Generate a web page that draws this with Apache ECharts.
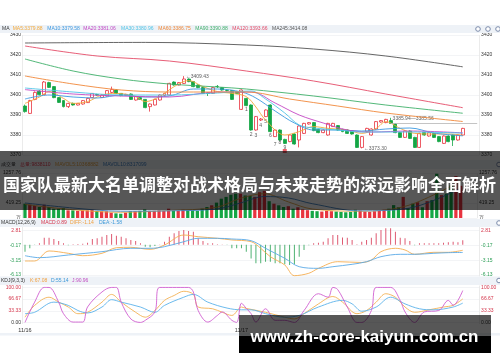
<!DOCTYPE html>
<html lang="zh">
<head>
<meta charset="UTF-8">
<title>K线</title>
<style>
  html, body { margin: 0; padding: 0; background: #fff; }
  #main { width: 500px; height: 362px; }
</style>
</head>
<body>
<div id="main"></div>
<script src="https://cdn.jsdelivr.net/npm/echarts@6/dist/echarts.min.js"></script>
<script>
// ---- data ----
var slotCount = 95;
var dayStarts = [[0, '11/16'], [45, '11/17']];

// [open, close, low, high]
var candles = [
  [3394.5,3391.7,3391.2,3395.2],[3390.8,3397.2,3390.5,3397.6],[3397.8,3401.3,3397.4,3401.8],[3402.0,3400.2,3399.8,3402.4],
  [3400.2,3406.5,3400.0,3407.0],[3406.2,3403.8,3403.5,3406.6],[3404.2,3398.7,3398.4,3404.5],[3398.7,3396.3,3396.0,3399.0],
  [3397.2,3394.2,3393.8,3397.5],[3394.2,3395.8,3393.5,3396.1],[3395.8,3395.0,3394.7,3396.2],[3395.0,3395.8,3394.8,3396.0],
  [3395.5,3397.2,3395.2,3397.5],[3396.2,3398.3,3396.0,3398.6],[3398.7,3400.8,3398.4,3401.0],[3400.2,3400.0,3399.6,3400.6],
  [3398.8,3400.0,3398.5,3400.3],[3399.5,3402.2,3399.3,3402.5],[3401.3,3402.8,3401.0,3404.2],[3402.5,3400.8,3400.5,3402.8],
  [3400.8,3399.7,3399.4,3401.0],[3399.8,3400.3,3399.5,3400.6],[3400.5,3397.8,3397.5,3400.8],[3397.5,3399.2,3397.2,3399.5],
  [3398.7,3397.8,3397.5,3399.0],[3397.8,3393.7,3393.4,3398.0],[3394.2,3395.5,3391.7,3395.8],[3395.0,3397.8,3394.8,3398.1],
  [3397.5,3400.0,3397.2,3400.3],[3399.8,3400.8,3399.5,3401.1],[3400.0,3405.8,3399.8,3406.1],[3406.5,3405.0,3404.7,3406.8],
  [3405.0,3406.2,3404.8,3406.5],[3405.8,3408.0,3405.5,3409.43],[3408.0,3406.7,3406.4,3408.3],[3406.7,3404.2,3403.9,3407.0],
  [3405.0,3403.7,3403.4,3405.3],[3403.7,3400.8,3400.5,3404.0],[3401.0,3400.8,3399.5,3401.3],[3400.8,3403.7,3400.5,3404.0],
  [3404.3,3404.2,3403.5,3405.0],[3403.7,3402.5,3402.2,3404.0],[3402.3,3402.2,3401.8,3402.7],[3402.2,3397.8,3397.5,3402.5],
  [3401.7,3400.8,3400.5,3402.0],[3392.8,3402.5,3392.5,3402.8],[3398.3,3394.7,3394.4,3398.6],[3395.0,3382.5,3382.2,3395.3],
  [3382.5,3389.2,3382.2,3389.5],[3387.5,3388.0,3387.0,3388.5],[3389.2,3392.5,3389.0,3392.8],[3395.0,3381.7,3381.4,3395.3],
  [3379.2,3382.5,3379.0,3382.8],[3382.5,3377.5,3377.2,3382.8],[3377.8,3375.8,3375.5,3378.1],[3376.7,3380.0,3376.4,3380.3],
  [3380.5,3375.5,3375.2,3380.8],[3377.5,3384.5,3373.8,3384.8],[3380.8,3385.8,3380.5,3386.1],[3385.5,3386.2,3385.2,3386.5],
  [3386.2,3382.2,3381.9,3386.5],[3382.8,3381.2,3380.9,3383.1],[3381.2,3382.5,3380.9,3382.8],[3380.0,3385.8,3379.7,3386.1],
  [3384.2,3385.8,3384.0,3386.1],[3384.7,3382.5,3382.2,3385.0],[3382.8,3381.7,3381.4,3383.1],[3382.5,3380.8,3380.5,3382.8],
  [3382.0,3380.5,3380.2,3382.3],[3380.0,3373.8,3373.5,3380.3],[3373.8,3379.2,3373.3,3379.5],[3381.7,3383.3,3381.4,3383.6],
  [3380.0,3383.0,3379.7,3383.3],[3383.0,3386.7,3382.7,3387.0],[3386.5,3387.2,3386.2,3387.5],[3386.2,3387.8,3385.9,3388.1],
  [3387.2,3385.8,3385.5,3388.6],[3385.5,3381.2,3380.9,3385.8],[3381.2,3378.8,3378.5,3381.5],[3378.8,3382.0,3378.5,3382.3],
  [3382.0,3378.3,3378.0,3382.3],[3378.8,3373.8,3373.5,3379.1],[3373.8,3380.8,3373.5,3381.1],[3381.2,3380.0,3379.7,3381.5],
  [3379.5,3381.2,3379.2,3381.5],[3380.8,3378.8,3378.5,3381.1],[3379.2,3376.7,3376.4,3379.5],[3375.8,3379.5,3375.5,3379.8],
  [3379.5,3376.7,3376.4,3379.8],[3380.0,3377.5,3374.5,3380.3],[3377.5,3380.0,3377.2,3380.3],[3380.0,3383.3,3379.7,3383.6]
];

// volume in 万
var volumes = [
  400,372,335,307,372,307,260,260,280,215, 215,200,215,215,230,200,187,187,150,130,
  120,150,187,187,200,242,200,200,215,200, 260,215,200,230,215,215,200,260,307,355,
  430,540,590,650,680,680,630,615,590,720, 760,470,400,355,307,330,260,300,240,220,
  200,190,180,200,190,180,170,160,170,230, 210,180,170,190,200,230,260,360,300,590,
  280,400,440,300,470,500,1238,640,680,913, 1174,900
];

// moving averages, [slot, value]
var ma5 = [[0,3395.8],[3,3399],[5,3401.7],[8,3398.3],[10,3395.8],[13,3396.7],[16,3400],[19,3400.8],[23,3399.2],[25,3396.7],[28,3399.2],[31,3404.2],[34,3407.2],[37,3404.2],[40,3401.7],[43,3400.8],[46,3399.2],[48,3394],[50,3387.5],[54,3380],[57,3381.7],[60,3384.2],[63,3383.3],[67,3382.5],[70,3380.8],[73,3383.3],[75,3386.7],[78,3383.3],[81,3380.8],[84,3380.5],[88,3380.5],[91,3379.88]];
var ma10 = [[0,3398],[5,3400],[10,3399],[15,3398.5],[20,3400],[25,3399],[30,3399.5],[35,3403],[40,3403],[45,3401.5],[48,3398.5],[52,3392],[56,3386],[60,3382.5],[65,3382.5],[70,3382],[75,3383],[80,3383.5],[85,3381],[91,3379.58]];
var ma20 = [[0,3402.7],[10,3400.5],[20,3399.5],[30,3399],[40,3401.5],[47,3401.5],[52,3396],[57,3390],[62,3386],[67,3382.5],[72,3381.5],[80,3382],[91,3381.06]];
var ma30 = [[0,3403.5],[10,3401.5],[20,3400],[30,3400],[40,3401],[47,3402],[50,3398],[54,3391],[57,3385],[60,3383.5],[65,3382.5],[70,3381.5],[80,3381.5],[91,3380.96]];
var ma60 = [[0,3409.5],[10,3405.5],[20,3402.5],[30,3401.5],[40,3401.5],[46,3401.5],[55,3398],[65,3394.5],[75,3391],[91,3386.75]];
var ma90 = [[0,3418],[10,3412],[20,3408],[30,3405.5],[40,3404],[46,3403],[60,3399.5],[75,3395],[91,3390.88]];
var ma120 = [[0,3424.5],[15,3419.5],[30,3417],[46,3412],[60,3407],[75,3400.5],[91,3393.66]];
var ma245 = [[0,3426],[25,3426.3],[46,3425],[60,3423],[75,3419.5],[91,3414.08]];

var mavol5 = [[0,380],[10,230],[20,160],[30,210],[40,300],[45,550],[50,680],[55,450],[60,250],[70,190],[80,350],[91,1036.9]];
var mavol10 = [[0,420],[10,280],[20,190],[30,200],[40,250],[45,420],[50,600],[55,560],[60,400],[70,200],[80,270],[91,831.7]];

var macdBars = [
  -1.42,-0.74,-0.07,0.3,1.4,1.4,1.14,0.73,0.27,-0.1, 0.1,0.15,0.2,0.4,1.14,1.28,1.6,1.94,2.14,1.8,
  1.6,1.28,0.94,0.73,0.27,-0.41,-0.54,-0.27,0.05,0.59, 1.6,2.28,2.75,2.95,2.75,2.6,1.28,0.73,0.27,0.27,
  0.1,0.05,-0.05,-0.74,-0.74,-0.74,-1.42,-2.8,-3.77,-3.77, -3.44,-3.44,-3.77,-3.77,-3.97,-4.11,-3.97,-2.43,-1.1,-0.1,
  0.27,0.39,0.59,1.28,1.94,1.94,1.45,1.4,0.94,0.07, 0.59,0.94,1.4,2.28,2.95,3.29,3.29,2.6,1.4,1.28,
  0.73,-0.1,0.27,0.27,0.27,0.27,0.27,0.39,0.47,0.59, 0.47,0.89
];
var diff = [[0,-3.3],[2,-3.3],[5,-1.28],[9,-1.75],[12,-2.23],[16,-1.75],[19,-0.62],[22,-0.54],[26,-0.95],[29,-0.07],[33,1.94],[36,1.6],[40,1.28],[43,0.94],[47,0.6],[49,-0.74],[51,-2.43],[54,-4.11],[56,-6.26],[59,-5.78],[61,-4.78],[65,-3.44],[70,-3.6],[72,-3.1],[74,-1.42],[77,-0.74],[79,-1.08],[81,-1.95],[85,-1.55],[88,-1.55],[91,-1.14]];
var dea = [[0,-2.23],[3,-2.63],[9,-2.09],[16,-1.42],[22,-0.74],[26,-0.74],[29,-0.41],[33,0.59],[36,1.28],[40,1.28],[43,1.14],[47,0.8],[50,-0.74],[54,-2.76],[57,-4.45],[61,-4.78],[64,-4.45],[68,-3.97],[71,-3.44],[74,-2.43],[78,-1.95],[81,-1.95],[85,-1.75],[88,-1.62],[91,-1.58]];

var kLine = [[0,15],[2,48.6],[5,72],[7,58],[9,44],[11,25],[13,29],[16,58],[18,80],[20,58],[23,29],[25,15],[27,34],[29,63],[31,77],[33,89],[35,80],[36,44],[39,39],[41,29],[43,20],[45,44],[46,40],[50,29],[54,15],[56,10],[58,25],[61,53],[64,74],[66,58],[69,25],[71,34],[73,58],[75,82],[77,72],[79,44],[81,29],[84,36],[87,44],[89,49],[91,67.08]];
var dLine = [[0,25],[2,29],[6,58],[9,48.6],[11,34],[13,27],[16,44],[18,65],[20,58],[24,44],[27,29],[29,48.6],[33,72],[35,80],[38,58],[42,41],[45,36],[47,36],[50,25],[54,15],[57,20],[61,44],[66,63],[68,53],[70,32],[73,44],[76,72],[79,53],[82,39],[85,36],[89,44],[91,55.14]];
var jLine = [[0,0],[2,58],[4,100],[5,100],[7,58],[8,25],[10,1],[12,1],[13,44],[16,87],[18,100],[19,100],[20,58],[22,10],[24,0],[25,6],[27,30],[28,100],[34,100],[35,87],[36,34],[38,1],[40,20],[41,30],[43,6],[44,0],[45,55],[46,40],[47,25],[48,1],[50,39],[52,6],[54,6],[56,0],[58,34],[61,82],[63,72],[64,100],[65,94],[67,44],[69,0],[70,0],[72,34],[73,100],[76,100],[78,63],[79,30],[81,0],[83,30],[86,34],[88,63],[89,49],[91,90.96]];

// annotations: [slot, value, text]
var priceNotes = [[33, 3409.43, '←3409.43'], [70, 3373.3, '←3373.30']];
var rangeNote = [76, 3385.94, '3385.94—3385.56'];
var seqMarks = [[46,3392.5,'1'],[47,3380,'2'],[48,3379.5,'3'],[49,3384.5,'4'],[50,3386.5,'5'],[51,3379.5,'6'],[52,3375,'7'],[53,3376,'8'],[54,3373.5,'9']];

var maLegend = ['MA', 'MA5:3379.88', 'MA10:3379.58', 'MA20:3381.06', 'MA30:3380.96', 'MA60:3386.75', 'MA90:3390.88', 'MA120:3393.66', 'MA245:3414.08'];
var volLegend = ['成交量', '总量:9838110', 'MAVOL5:10368882', 'MAVOL10:8317099'];
var macdLegend = ['MACD(12,26,9)', 'MACD:0.89', 'DIFF:-1.14', 'DEA:-1.58'];
var kdjLegend = ['KDJ(9,3,3)', 'K:67.08', 'D:55.14', 'J:90.96'];
var titleText = '国家队最新大名单调整对战术格局与未来走势的深远影响全面解析';
var siteText = 'www.zh-core-kaiyun.com.cn';

// ---- styles ----
var RED = '#e8343f', GREEN = '#14a645';
var maColors = ['#f3a93b', '#3b98e0', '#c446c4', '#4fc4e6', '#f0883a', '#40b06a', '#e44c68', '#555555'];
var FONT = 'Liberation Sans';

var categories = [];
for (var i = 0; i < slotCount; i++) categories.push('');
dayStarts.forEach(function (d) { categories[d[0]] = d[1]; });

var gridL = 22.6, gridW = 457;
var grids = [
  { left: gridL, width: gridW, top: 35, height: 120 },
  { left: gridL, width: gridW, top: 173, height: 45 },
  { left: gridL, width: gridW, top: 227, height: 49.5 },
  { left: gridL, width: gridW, top: 285.5, height: 38.5 }
];

function xAx(idx, showLabel) {
  return {
    type: 'category', gridIndex: idx, data: categories, boundaryGap: true,
    axisLine: { show: false }, axisTick: { show: false },
    axisLabel: {
      show: showLabel, interval: 0, fontSize: 5.5, color: '#333', margin: 3, fontFamily: FONT,
      formatter: function (v) { return v; }
    },
    splitLine: { show: true, interval: function (i) { return i === 45; }, lineStyle: { color: '#e6e6e6', width: 0.8 } }
  };
}

function yAx(idx, pos, cfg) {
  var ax = {
    type: 'value', gridIndex: idx, position: pos, min: cfg.min, max: cfg.max, scale: true,
    axisLine: { show: false },
    axisTick: { show: false },
    axisLabel: {
      fontSize: 5, margin: 1.5, fontFamily: FONT,
      color: cfg.color || '#333',
      formatter: cfg.fmt
    },
    splitLine: { show: pos === 'left', lineStyle: { color: '#f0f1f4', width: 0.8 } }
  };
  if (cfg.interval) ax.interval = cfg.interval;
  if (cfg.values) {
    ax.axisLabel.customValues = cfg.values;
    ax.axisTick.customValues = cfg.values;
  }
  return ax;
}

var priceCfg = { min: 3370, max: 3430, interval: 10, fmt: function (v) { return v.toFixed(0); } };
var volCfg = { min: 0, max: 1257.76, values: [0, 419.25, 838.51, 1257.76],
  fmt: function (v) { if (v === 0) return '万'; if (v === 838.51) return ''; return v.toFixed(2); } };
var macdCfg = { min: -6.43, max: 3.56, values: [-6.13, -3.15, -0.17, 2.81],
  fmt: function (v) { return v.toFixed(2); },
  color: function (v) { return Number(v) > 0 ? '#d4344a' : '#2a9d55'; } };
var kdjCfg = { min: -4.5, max: 105.5, values: [0, 33.33, 66.67, 100],
  fmt: function (v) { return v.toFixed(2); },
  color: function (v) { return Number(v) > 1 ? '#d4344a' : '#333'; } };

function line(name, data, color, xi, yi) {
  return {
    name: name, type: 'line', data: data, xAxisIndex: xi, yAxisIndex: yi,
    symbol: 'none', smooth: 0.35, clip: false, silent: true,
    lineStyle: { color: color, width: 0.9 }
  };
}

function txt(x, y, s, color, size, extra) {
  var st = { text: s, fill: color, font: (extra && extra.weight ? extra.weight + ' ' : '') + size + 'px ' + ((extra && extra.family) || FONT),
    align: (extra && extra.align) || 'left', verticalAlign: 'middle' };
  return { type: 'text', x: x, y: y, z: (extra && extra.z) || 50, style: st, silent: true };
}

var legendColorsVol = ['#333', '#e03b4c', '#e0a040', '#3c7fc0'];
var legendColorsMacd = ['#333', '#d4344a', '#f0a040', '#3c98d8'];
var legendColorsKdj = ['#333', '#f0a040', '#3c98d8', '#c04cc0'];
var maLegendX = [2, 12.7, 47.3, 83.3, 121, 158.3, 195.3, 232.3, 272];
var volLegendX = [1, 20, 55, 103];
var macdLegendX = [1, 41, 70, 99];
var kdjLegendX = [1, 30, 51, 72];

var graphics = [];
// header strips
[[25, 8], [160, 9], [219, 8], [276.5, 8.5], [333, 2.5]].forEach(function (s) {
  graphics.push({ type: 'rect', shape: { x: 0, y: s[0], width: 500, height: s[1] }, style: { fill: '#eef2f7' }, z: 1, silent: true });
});
maLegend.forEach(function (s, i) { graphics.push(txt(maLegendX[i], 29, s, i === 0 ? '#333' : maColors[i - 1], 5)); });
volLegend.forEach(function (s, i) { graphics.push(txt(volLegendX[i], 164.5, s, legendColorsVol[i], 5)); });
macdLegend.forEach(function (s, i) { graphics.push(txt(macdLegendX[i], 223, s, legendColorsMacd[i], 5)); });
kdjLegend.forEach(function (s, i) { graphics.push(txt(kdjLegendX[i], 280.5, s, legendColorsKdj[i], 5)); });
// small icons
[[478, 29], [488, 29], [498, 29], [499, 164.5], [499, 223], [499, 280.5]].forEach(function (c) {
  graphics.push({ type: 'circle', shape: { cx: c[0], cy: c[1], r: 2.3 }, style: { fill: '#fff', stroke: '#7b8bab', lineWidth: 1 }, z: 40, silent: true });
});
// title overlay
graphics.push({ type: 'rect', shape: { x: 0, y: 151, width: 500, height: 59 }, style: { fill: 'rgba(0,0,0,0.66)' }, z: 100, silent: true });
graphics.push(txt(249.5, 184.5, titleText, '#ffffff', 17, { weight: 'bold', family: 'Noto Sans CJK SC', align: 'center', z: 101 }));
// site watermark
graphics.push({ type: 'rect', shape: { x: 239, y: 315, width: 252, height: 21 }, style: { fill: 'rgba(0,0,0,0.66)' }, z: 100, silent: true });
graphics.push({ type: 'rect', shape: { x: 239, y: 336, width: 252, height: 17 }, style: { fill: '#000' }, z: 100, silent: true });
graphics.push(txt(364.5, 337, siteText, '#ffffff', 17, { weight: 'bold', align: 'center', z: 101 }));

var series = [
  {
    name: 'K', type: 'candlestick', data: candles, xAxisIndex: 0, yAxisIndex: 0, barWidth: '72%',
    itemStyle: { color: '#ffffff', color0: GREEN, borderColor: RED, borderColor0: GREEN, borderWidth: 0.8 },
    markLine: {
      symbol: 'none', silent: true, label: { show: false },
      lineStyle: { color: '#b5b5b5', width: 0.8, type: 'solid' },
      data: [[{ coord: [rangeNote[0], rangeNote[1]] }, { coord: [slotCount - 1, rangeNote[1]] }]]
    }
  },
  line('MA5', ma5, maColors[0], 0, 0),
  line('MA10', ma10, maColors[1], 0, 0),
  line('MA20', ma20, maColors[2], 0, 0),
  line('MA30', ma30, maColors[3], 0, 0),
  line('MA60', ma60, maColors[4], 0, 0),
  line('MA90', ma90, maColors[5], 0, 0),
  line('MA120', ma120, maColors[6], 0, 0),
  line('MA245', ma245, maColors[7], 0, 0),
  {
    type: 'scatter', xAxisIndex: 0, yAxisIndex: 0, symbolSize: 0, silent: true,
    data: priceNotes.map(function (n) { return { value: [n[0], n[1]], label: { formatter: n[2] } }; })
      .concat([{ value: [rangeNote[0], rangeNote[1]], label: { formatter: rangeNote[2], offset: [0, -4] } }]),
    label: { show: true, position: 'right', distance: 2, fontSize: 5, color: '#333', fontFamily: FONT }
  },
  {
    type: 'scatter', xAxisIndex: 0, yAxisIndex: 0, symbolSize: 0, silent: true,
    data: seqMarks.map(function (n) { return { value: [n[0], n[1]], label: { formatter: n[2] } }; }),
    label: { show: true, position: 'inside', fontSize: 5, color: '#333', fontFamily: FONT }
  },
  {
    type: 'scatter', xAxisIndex: 0, yAxisIndex: 0, symbol: 'rect', symbolSize: 4, silent: true,
    itemStyle: { color: RED }, data: [[54, 3372]]
  },
  {
    name: 'VOL', type: 'bar', xAxisIndex: 1, yAxisIndex: 2, barWidth: '68%', silent: true,
    data: volumes.map(function (v, i) {
      var up = candles[i][1] >= candles[i][0];
      return { value: v, itemStyle: { color: up ? RED : GREEN } };
    })
  },
  line('MAVOL5', mavol5, '#e0a040', 1, 2),
  line('MAVOL10', mavol10, '#3c7fc0', 1, 2),
  {
    name: 'MACD', type: 'bar', xAxisIndex: 2, yAxisIndex: 4, barWidth: 1, silent: true,
    data: macdBars.map(function (v) { return { value: v, itemStyle: { color: v >= 0 ? '#de5a72' : '#4fb272' } }; })
  },
  line('DIFF', diff, '#f5ad4f', 2, 4),
  line('DEA', dea, '#5aa9e6', 2, 4),
  line('K', kLine, '#f3b153', 3, 6),
  line('D', dLine, '#5bb2ea', 3, 6),
  line('J', jLine, '#d05fd0', 3, 6)
];

var option = {
  backgroundColor: '#ffffff',
  animation: false,
  textStyle: { fontFamily: FONT },
  grid: grids,
  xAxis: [xAx(0, false), xAx(1, false), xAx(2, false), xAx(3, true)],
  yAxis: [
    yAx(0, 'left', priceCfg), yAx(0, 'right', priceCfg),
    yAx(1, 'left', volCfg), yAx(1, 'right', volCfg),
    yAx(2, 'left', macdCfg), yAx(2, 'right', macdCfg),
    yAx(3, 'left', kdjCfg), yAx(3, 'right', kdjCfg)
  ],
  series: series,
  graphic: graphics
};

var myChart = echarts.init(document.getElementById('main'));
myChart.setOption(option);
</script>
</body>
</html>
